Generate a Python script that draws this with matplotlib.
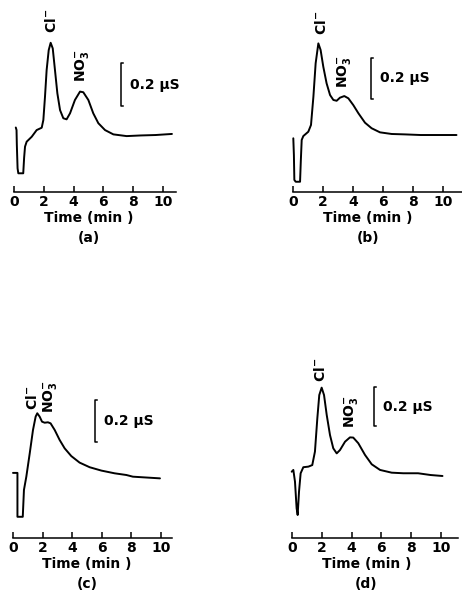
import matplotlib
matplotlib.use('Agg')
import matplotlib.pyplot as plt

# Chromatograms: time in min, conductivity in µS above the time axis
time_a = [0.12, 0.17, 0.19, 0.24, 0.29, 0.62, 0.68, 0.74, 0.85, 1.19, 1.52, 1.86, 1.97, 2.08, 2.19,
          2.33, 2.46, 2.6, 2.75, 2.91, 3.09, 3.31, 3.53, 3.76, 4.09, 4.43, 4.65, 4.99, 5.32, 5.66,
          6.11, 6.67, 7.56, 8.5, 9.5, 10.6]
sig_a = [0.300, 0.288, 0.220, 0.110, 0.087, 0.087, 0.160, 0.211, 0.234, 0.257, 0.288, 0.299, 0.335,
         0.443, 0.567, 0.660, 0.694, 0.668, 0.567, 0.459, 0.381, 0.343, 0.338, 0.366, 0.428, 0.467,
         0.464, 0.428, 0.366, 0.320, 0.288, 0.268, 0.260, 0.263, 0.265, 0.270]

time_b = [0.02, 0.06, 0.09, 0.18, 0.47, 0.52, 0.58, 0.69, 1.02, 1.2, 1.36, 1.51, 1.69, 1.84, 2.02,
          2.24, 2.47, 2.69, 2.91, 3.13, 3.42, 3.69, 4.02, 4.36, 4.8, 5.24, 5.8, 6.58, 7.47, 8.5, 10.9]
sig_b = [0.262, 0.180, 0.059, 0.050, 0.050, 0.150, 0.254, 0.273, 0.294, 0.327, 0.465, 0.628, 0.725,
         0.693, 0.611, 0.530, 0.473, 0.449, 0.445, 0.460, 0.468, 0.457, 0.424, 0.384, 0.338, 0.311,
         0.291, 0.283, 0.281, 0.278, 0.278]

time_c = [0.0, 0.3, 0.3, 0.66, 0.74, 0.9, 1.13, 1.35, 1.53, 1.64, 1.8, 1.96, 2.14, 2.36, 2.54, 2.82,
          3.15, 3.49, 3.94, 4.5, 5.18, 5.97, 6.87, 7.66, 8.1, 9.93]
sig_c = [0.310, 0.310, 0.101, 0.101, 0.229, 0.292, 0.403, 0.514, 0.578, 0.594, 0.578, 0.554, 0.549,
         0.551, 0.546, 0.514, 0.467, 0.427, 0.390, 0.359, 0.337, 0.321, 0.308, 0.300, 0.292, 0.284]

time_d = [-0.02, 0.09, 0.2, 0.31, 0.38, 0.47, 0.58, 0.76, 1.1, 1.36, 1.54, 1.7, 1.83, 1.99, 2.15,
          2.33, 2.55, 2.77, 3.0, 3.22, 3.56, 3.89, 4.11, 4.45, 4.9, 5.35, 5.91, 6.69, 7.47, 8.46,
          9.3, 10.1]
sig_d = [0.340, 0.349, 0.289, 0.152, 0.118, 0.237, 0.332, 0.363, 0.366, 0.374, 0.443, 0.614, 0.733,
         0.771, 0.733, 0.631, 0.528, 0.460, 0.434, 0.451, 0.494, 0.516, 0.515, 0.486, 0.426, 0.378,
         0.349, 0.335, 0.332, 0.332, 0.323, 0.318]

panel_names = ['(a)', '(b)', '(c)', '(d)']
x_ticks = [0, 2, 4, 6, 8, 10]
bar_size = 0.2  # µS
bar_bottom = [0.40, 0.454, 0.457, 0.574]
bar_time = [7.18, 5.2, 5.54, 5.5]
cl_pos = [(2.55, 0.74), (1.87, 0.766), (1.35, 0.61), (1.88, 0.80)]
no3_pos = [(4.55, 0.51), (3.4, 0.507), (2.5, 0.595), (3.96, 0.564)]

traces = [(time_a, sig_a), (time_b, sig_b), (time_c, sig_c), (time_d, sig_d)]

W, H = 462, 591
# pixel layout: left of t=0, axis line from top, px per min, px per µS, axis end in min
left_px = [14, 293, 13, 292]
axis_y_px = [192, 192, 538, 538]
px_min = [14.9, 15.0, 14.8, 14.9]
px_us = [215, 205, 210, 195]
x_end = [10.9, 11.27, 10.74, 11.14]
height_px = 180

fig = plt.figure(figsize=(W / 100, H / 100), dpi=100)

for i in range(4):
    w_px = x_end[i] * px_min[i]
    ax = fig.add_axes([left_px[i] / W, (H - axis_y_px[i]) / H, w_px / W, height_px / H])
    ax.set_xlim(0, x_end[i])
    ax.set_ylim(0, height_px / px_us[i])
    for s in ['left', 'right', 'top']:
        ax.spines[s].set_visible(False)
    ax.spines['bottom'].set_linewidth(1.1)
    ax.set_yticks([])
    ax.set_xticks(x_ticks)
    ax.tick_params(axis='x', direction='in', length=4, width=1.1, pad=2, labelsize=10)
    for lab in ax.get_xticklabels():
        lab.set_fontweight('bold')

    t, s = traces[i]
    ax.plot(t, s, color='black', lw=1.4, clip_on=False,
            solid_joinstyle='round', solid_capstyle='round')

    # scale bar
    b0 = bar_bottom[i]
    bt = bar_time[i]
    ax.plot([bt + 0.15, bt, bt, bt + 0.15], [b0 + bar_size, b0 + bar_size, b0, b0],
            color='black', lw=1.1, clip_on=False)
    ax.text(bt + 0.6, b0 + bar_size / 2, '0.2 µS', fontsize=10, fontweight='bold',
            va='center', ha='left')

    ax.text(cl_pos[i][0], cl_pos[i][1], r'Cl$^{\mathbf{-}}$', rotation=90, fontsize=10,
            fontweight='bold', ha='center', va='bottom', clip_on=False)
    ax.text(no3_pos[i][0], no3_pos[i][1], r'NO$_{\mathbf{3}}^{\mathbf{-}}$', rotation=90, fontsize=10,
            fontweight='bold', ha='center', va='bottom', clip_on=False)

    ax.annotate('Time (min )', xy=(5, 0), xycoords=('data', 'axes fraction'),
                xytext=(0, -26 * 0.72), textcoords='offset points',
                ha='center', va='center', fontsize=10, fontweight='bold')
    ax.annotate(panel_names[i], xy=(5, 0), xycoords=('data', 'axes fraction'),
                xytext=(0, -46 * 0.72), textcoords='offset points',
                ha='center', va='center', fontsize=10, fontweight='bold')

fig.savefig('out.png', dpi=100)
